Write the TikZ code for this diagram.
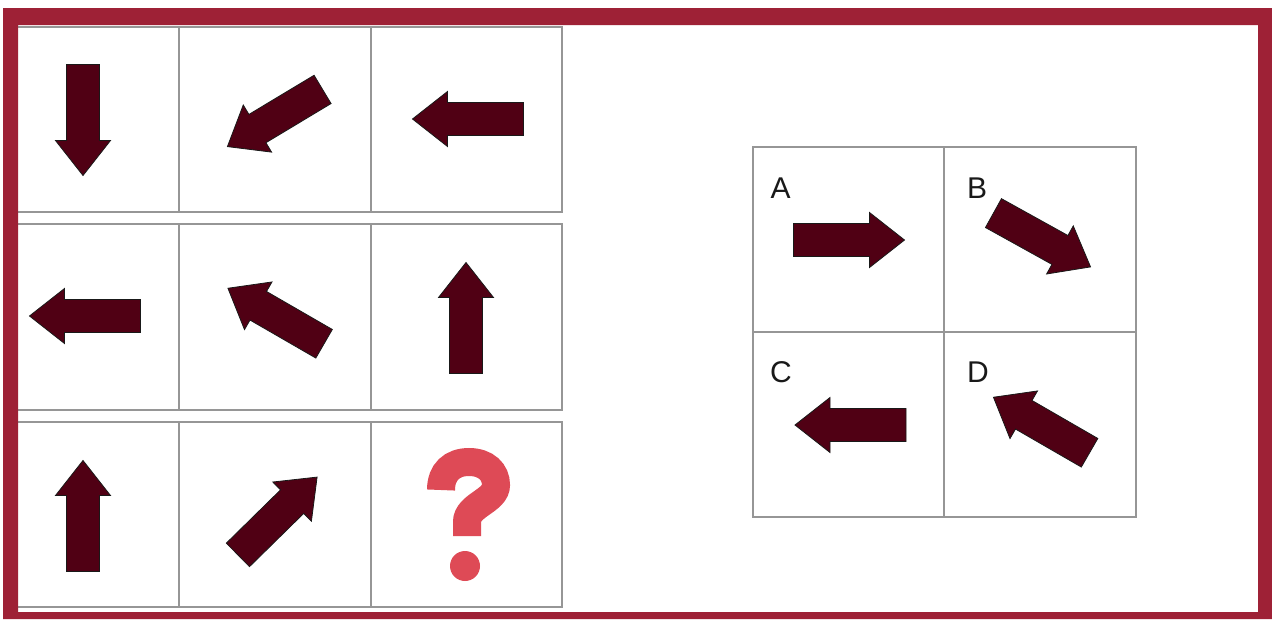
\documentclass[tikz,border=0pt]{standalone}
\usepackage{fontspec}
\setmainfont{Liberation Sans}
\definecolor{framered}{RGB}{158,33,54}
\definecolor{arrowfill}{RGB}{80,0,20}
\definecolor{gridgray}{RGB}{150,150,150}
\definecolor{qred}{RGB}{222,74,86}
\tikzset{
  cellbox/.style={draw=gridgray,line width=2pt,inner sep=0pt,rectangle},
  arrowbody/.style={fill=arrowfill,draw=black!90,line width=0.8pt,line join=miter},
  lbl/.style={inner sep=0pt,text=black!90,font=\fontsize{30}{30}\selectfont},
  pics/blockarr/.style={code={
    \draw[arrowbody] (-55.5,-16.5) -- (20.5,-16.5) -- (20.5,-27.5) -- (55.5,0)
      -- (20.5,27.5) -- (20.5,16.5) -- (-55.5,16.5) -- cycle;}}
}
\begin{document}
\begin{tikzpicture}[x=1pt,y=-1pt]
\useasboundingbox (0,0) rectangle (1272,619);
\fill[white] (0,0) rectangle (1272,619);
% left grid
\node[cellbox,minimum width=169pt,minimum height=185pt] (r1c1) at (94.5,119.5) {};
\node[cellbox,minimum width=192pt,minimum height=185pt] (r1c2) at (275,119.5) {};
\node[cellbox,minimum width=191pt,minimum height=185pt] (r1c3) at (466.5,119.5) {};
\node[cellbox,minimum width=169pt,minimum height=186pt] (r2c1) at (94.5,317) {};
\node[cellbox,minimum width=192pt,minimum height=186pt] (r2c2) at (275,317) {};
\node[cellbox,minimum width=191pt,minimum height=186pt] (r2c3) at (466.5,317) {};
\node[cellbox,minimum width=169pt,minimum height=185pt] (r3c1) at (94.5,514.5) {};
\node[cellbox,minimum width=192pt,minimum height=185pt] (r3c2) at (275,514.5) {};
\node[cellbox,minimum width=191pt,minimum height=185pt] (r3c3) at (466.5,514.5) {};
% answer grid
\node[cellbox,minimum width=191pt,minimum height=185pt] (ca) at (848.5,239.5) {};
\node[cellbox,minimum width=192pt,minimum height=185pt] (cb) at (1040,239.5) {};
\node[cellbox,minimum width=191pt,minimum height=185pt] (cc) at (848.5,424.5) {};
\node[cellbox,minimum width=192pt,minimum height=185pt] (cd) at (1040,424.5) {};
% arrows in left grid
\pic[rotate=-90] at (83,120) {blockarr};
\pic[rotate=-149] at (275,118) {blockarr};
\pic[rotate=180] at (468,119) {blockarr};
\pic[rotate=180] at (85,316) {blockarr};
\pic[rotate=150] at (276,316) {blockarr};
\pic[rotate=90] at (466,318) {blockarr};
\pic[rotate=90] at (83,516) {blockarr};
\pic[rotate=44.5] at (277.5,516) {blockarr};
% question mark
\draw[qred,line width=28pt,line cap=butt]
  (441,490) .. controls (441,472) and (452,462) .. (469,462)
  .. controls (486,462) and (496,472) .. (496,485)
  .. controls (496,501) and (467,505) .. (467,522) -- (467,536);
\fill[qred] (465,566) circle[radius=15];
% answer arrows
\pic[rotate=0] at (849,240) {blockarr};
\pic[rotate=-29] at (1042,240) {blockarr};
\pic[rotate=180] at (850.5,425) {blockarr};
\pic[rotate=150] at (1041.5,425) {blockarr};
% labels
\node[lbl] (la) at (780.5,188) {A};
\node[lbl] (lb) at (977,188) {B};
\node[lbl] (lc) at (781,372) {C};
\node[lbl] (ld) at (978,372) {D};
% frame
\fill[framered,even odd rule] (3,8) rectangle (1272,619) (18,25) rectangle (1258,612);
\end{tikzpicture}
\end{document}
